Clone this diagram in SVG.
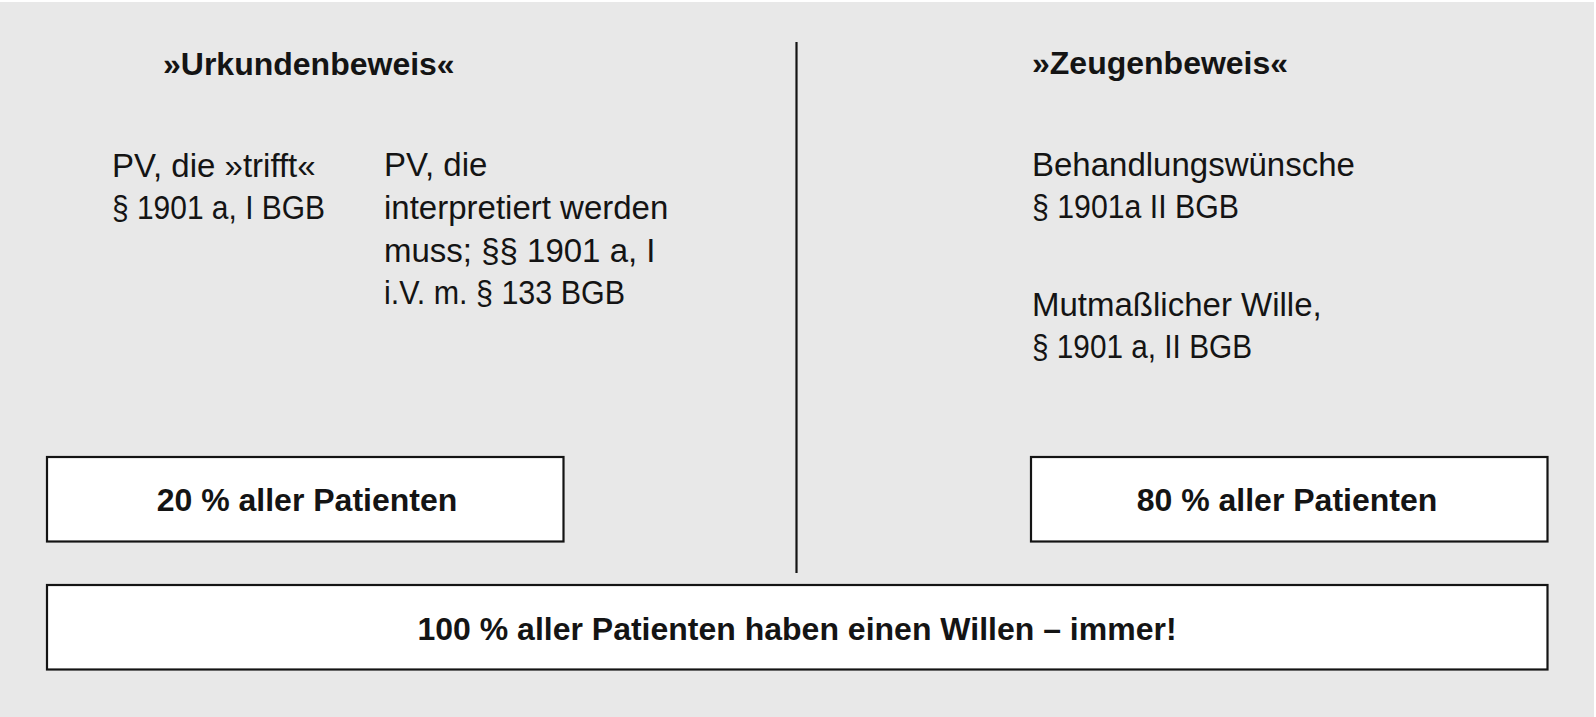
<svg xmlns="http://www.w3.org/2000/svg" width="1596" height="717" viewBox="0 0 1596 717">
<style>
.t{font-family:"Liberation Sans",Arial,sans-serif;font-size:33px;fill:#141414}
.b{font-family:"Liberation Sans",Arial,sans-serif;font-size:32px;font-weight:bold;fill:#141414}
.c{text-anchor:middle}
.box{fill:#ffffff;stroke:#141414;stroke-width:2.2}
</style>
<rect x="0" y="0" width="1596" height="717" fill="#ffffff"/>
<rect x="0" y="2" width="1594" height="715" fill="#e8e8e8"/>
<g id="connectors">
<line x1="796.5" y1="42" x2="796.5" y2="573" stroke="#141414" stroke-width="2.2"/>
</g>
<g id="urkundenbeweis">
<text class="b" x="163" y="75">»Urkundenbeweis«</text>
</g>
<g id="pv-trifft">
<text class="t" x="112" y="177">PV, die »trifft«</text>
<text class="t" x="112" y="219" textLength="213" lengthAdjust="spacingAndGlyphs">§ 1901 a, I BGB</text>
</g>
<g id="pv-interpretiert">
<text class="t" x="384" y="176">PV, die</text>
<text class="t" x="384" y="219">interpretiert werden</text>
<text class="t" x="384" y="262">muss; §§ 1901 a, I</text>
<text class="t" x="384" y="304" textLength="241" lengthAdjust="spacingAndGlyphs">i.V. m. § 133 BGB</text>
</g>
<g id="zeugenbeweis">
<text class="b" x="1032" y="74">»Zeugenbeweis«</text>
</g>
<g id="behandlungswuensche">
<text class="t" x="1032" y="176">Behandlungswünsche</text>
<text class="t" x="1032" y="218" textLength="207" lengthAdjust="spacingAndGlyphs">§ 1901a II BGB</text>
</g>
<g id="mutmasslicher-wille">
<text class="t" x="1032" y="316">Mutmaßlicher Wille,</text>
<text class="t" x="1032" y="358" textLength="220" lengthAdjust="spacingAndGlyphs">§ 1901 a, II BGB</text>
</g>
<g id="box-20">
<rect class="box" x="47" y="457" width="516.5" height="84.5"/>
<text class="b c" x="307" y="511">20 % aller Patienten</text>
</g>
<g id="box-80">
<rect class="box" x="1031" y="457" width="516.5" height="84.5"/>
<text class="b c" x="1287" y="511">80 % aller Patienten</text>
</g>
<g id="box-100">
<rect class="box" x="47" y="585" width="1500.5" height="84.5"/>
<text class="b c" x="797" y="640">100 % aller Patienten haben einen Willen – immer!</text>
</g>
</svg>
